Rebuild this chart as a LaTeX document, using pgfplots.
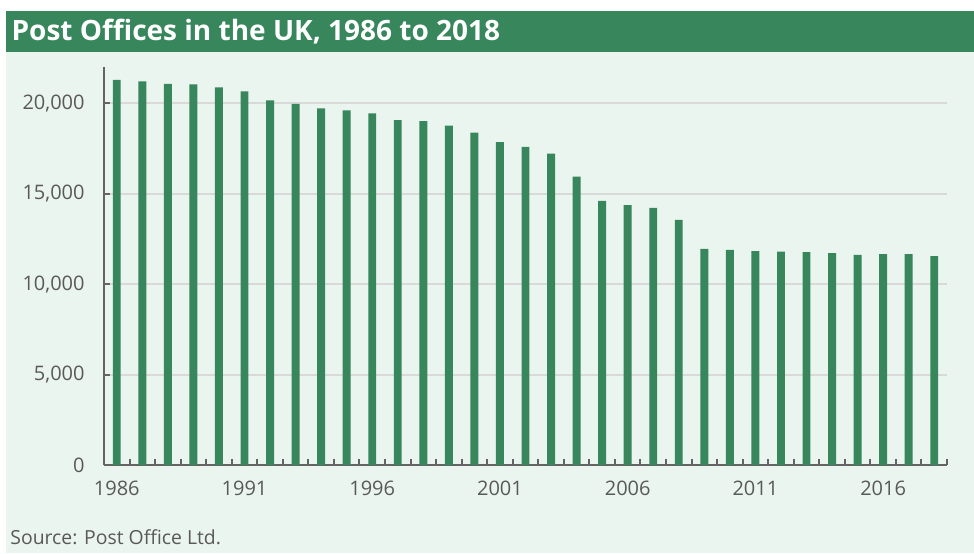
\documentclass[border=0pt]{standalone}
\usepackage{pgfplots}
\pgfplotsset{compat=1.18}
\usepackage{pgfplotstable}
\usepackage{fontspec}
\setmainfont{Open Sans}
\definecolor{pogreen}{RGB}{55,134,92}
\definecolor{mint}{RGB}{235,245,240}
\definecolor{gridgray}{RGB}{217,217,217}
\definecolor{axisgray}{RGB}{100,100,100}
\definecolor{labelgray}{RGB}{89,89,89}

% number of post offices by year (index 0 = 1986)
\pgfplotstableread{
i year n
0 1986 21295
1 1987 21201
2 1988 21074
3 1989 21035
4 1990 20869
5 1991 20647
6 1992 20149
7 1993 19967
8 1994 19707
9 1995 19596
10 1996 19430
11 1997 19059
12 1998 19004
13 1999 18766
14 2000 18379
15 2001 17842
16 2002 17587
17 2003 17207
18 2004 15938
19 2005 14597
20 2006 14360
21 2007 14211
22 2008 13549
23 2009 11948
24 2010 11893
25 2011 11821
26 2012 11799
27 2013 11766
28 2014 11711
29 2015 11617
30 2016 11656
31 2017 11656
32 2018 11546
}\offices

\begin{document}
\begin{tikzpicture}
\useasboundingbox (0,0) rectangle (487pt,276.5pt);
\fill[white] (0,0) rectangle (487pt,276.5pt);
\fill[mint] (3pt,0) rectangle (487pt,250.5pt);
\fill[pogreen] (3pt,250.5pt) rectangle (487pt,271pt);
\node[anchor=base west, inner sep=0pt, text=white, font=\bfseries\fontsize{14}{16}\selectfont]
  at (5.6pt,256.2pt) {Post Offices in the UK, 1986 to 2018};
\node[anchor=base west, inner sep=0pt, text=labelgray, font=\fontsize{9.7}{12}\selectfont]
  at (5pt,4.5pt) {Source: Post Office Ltd.};

\begin{axis}[
  at={(52pt,44pt)}, anchor=south west,
  scale only axis,
  width=421.5pt, height=199pt,
  xmin=-0.5, xmax=32.5,
  ymin=0, ymax=22000,
  axis lines*=left,
  axis line style={draw=axisgray, line width=1pt},
  tick style={draw=axisgray, line width=1pt},
  tick align=inside,
  major tick length=3pt,
  xtick={-0.5,0.5,...,32.6},
  xticklabels={},
  extra x ticks={0,5,...,30},
  extra x tick labels={1986,1991,1996,2001,2006,2011,2016},
  extra x tick style={major tick length=0pt, grid=none},
  ytick={0,5000,...,20000},
  scaled y ticks=false,
  ymajorgrids,
  grid style={draw=gridgray, line width=1pt},
  ticklabel style={font=\fontsize{10}{12}\selectfont, text=labelgray},
  /pgf/number format/assume math mode=true,
  /pgf/number format/1000 sep={,},
  yticklabel style={inner sep=0pt, xshift=-9.5pt},
  xticklabel style={inner sep=0pt, yshift=-8pt},
]
\addplot[ybar, bar width=0.31, fill=pogreen, draw=none] table[x=i, y=n] {\offices};
\end{axis}
\end{tikzpicture}
\end{document}
